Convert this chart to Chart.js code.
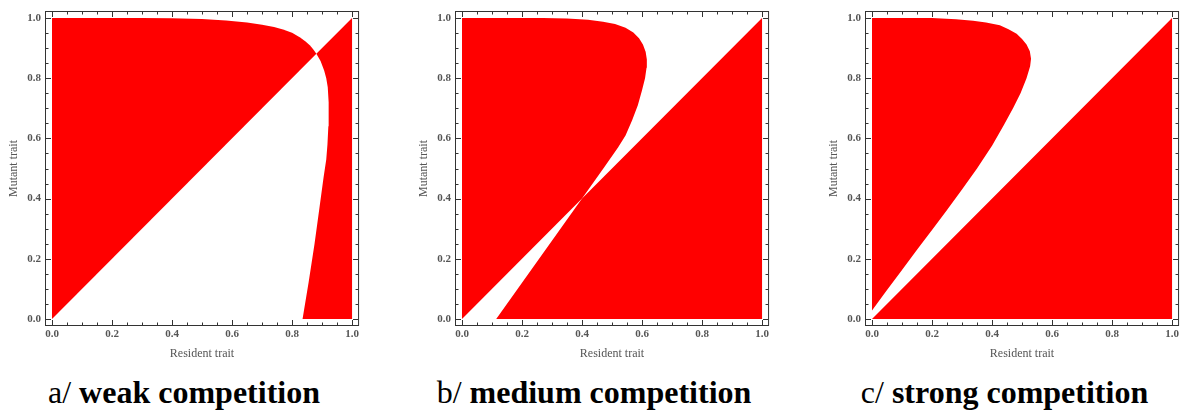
<!DOCTYPE html>
<html>
<head>
<meta charset="utf-8">
<script src="https://cdn.jsdelivr.net/npm/chart.js@4.4.0/dist/chart.umd.min.js"></script>
<style>
  html, body { margin: 0; padding: 0; background: #fff; width: 1181px; height: 410px; overflow: hidden; }
  .panel { position: absolute; top: 0; width: 362px; height: 370px; }
  .caption { position: absolute; top: 376px; width: 400px; text-align: center;
             font-family: "Liberation Serif", serif; font-size: 32px; line-height: 32px;
             color: #000; white-space: nowrap; }
</style>
</head>
<body>
<div class="panel" style="left:0px"><canvas id="pipWeak"></canvas></div>
<div class="panel" style="left:410px"><canvas id="pipMedium"></canvas></div>
<div class="panel" style="left:820px"><canvas id="pipStrong"></canvas></div>
<div class="caption" style="left:-16px">a/ <b>weak competition</b></div>
<div class="caption" style="left:394px">b/ <b>medium competition</b></div>
<div class="caption" style="left:804.5px">c/ <b>strong competition</b></div>
<script>
// tick labels on both axes
const tickValues = [0, 0.2, 0.4, 0.6, 0.8, 1.0];

// a/ weak competition : invasion regions (resident x, mutant y)
const weakLeftX  = [0, 0.881, 0.871, 0.86, 0.845, 0.827, 0.80, 0.77, 0.74, 0.70, 0.65, 0.58, 0.50, 0.40, 0.30, 0];
const weakLeftY  = [0, 0.881, 0.895, 0.909, 0.922, 0.935, 0.951, 0.962, 0.970, 0.978, 0.985, 0.992, 0.997, 0.999, 1.0, 1.0];
const weakRightX = [0.835, 0.855, 0.875, 0.89, 0.905, 0.914, 0.918, 0.921, 0.922, 0.922, 0.919, 0.914, 0.907, 0.895, 0.881, 1, 1];
const weakRightY = [0, 0.12, 0.25, 0.36, 0.47, 0.53, 0.58, 0.64, 0.69, 0.72, 0.77, 0.80, 0.826, 0.857, 0.881, 1, 0];

// b/ medium competition
const mediumLeftX  = [0, 0.40, 0.474, 0.52, 0.545, 0.567, 0.586, 0.600, 0.610, 0.615, 0.616, 0.612, 0.603, 0.59, 0.571, 0.545, 0.51, 0.47, 0.42, 0.35, 0.27, 0];
const mediumLeftY  = [0, 0.40, 0.504, 0.57, 0.61, 0.66, 0.71, 0.76, 0.80, 0.835, 0.862, 0.888, 0.912, 0.933, 0.952, 0.968, 0.980, 0.988, 0.994, 0.998, 1.0, 1.0];
const mediumRightX = [0.114, 0.40, 1, 1];
const mediumRightY = [0, 0.40, 1, 0];

// c/ strong competition
const strongLeftX  = [0, 0.05, 0.10, 0.15, 0.20, 0.25, 0.30, 0.35, 0.40, 0.44, 0.47, 0.495, 0.515, 0.527, 0.530, 0.526, 0.515, 0.50, 0.482, 0.455, 0.426, 0.38, 0.337, 0.28, 0.20, 0];
const strongLeftY  = [0.028, 0.096, 0.163, 0.23, 0.296, 0.362, 0.43, 0.50, 0.576, 0.645, 0.70, 0.75, 0.80, 0.84, 0.865, 0.89, 0.912, 0.93, 0.948, 0.963, 0.976, 0.985, 0.991, 0.996, 1.0, 1.0];
const strongRightX = [0, 1, 1];
const strongRightY = [0, 1, 0];

const regionColor = 'rgb(255,0,0)';
const serif = '"Liberation Serif", serif';

// frame box with inward ticks on all four sides
const framePlugin = {
  id: 'frame',
  afterDraw(chart) {
    const {ctx, chartArea: a, scales: {x, y}} = chart;
    ctx.save();
    ctx.strokeStyle = '#333';
    ctx.lineWidth = 1;
    ctx.strokeRect(a.left - 0.5, a.top - 0.5, a.right - a.left + 1, a.bottom - a.top + 1);
    ctx.beginPath();
    for (let i = 0; i <= 20; i++) {
      const v = i / 20;
      const len = i % 4 === 0 ? 5 : 2.5;
      const px = Math.round(x.getPixelForValue(v)) + 0.5;
      ctx.moveTo(px, a.bottom); ctx.lineTo(px, a.bottom - len);
      ctx.moveTo(px, a.top); ctx.lineTo(px, a.top + len);
      const py = Math.round(y.getPixelForValue(v)) + 0.5;
      ctx.moveTo(a.left, py); ctx.lineTo(a.left + len, py);
      ctx.moveTo(a.right, py); ctx.lineTo(a.right - len, py);
    }
    ctx.stroke();
    ctx.restore();
  }
};

function region(xs, ys) {
  return {
    data: xs.map((v, i) => ({x: v, y: ys[i]})),
    showLine: true,
    fill: 'shape',
    backgroundColor: regionColor,
    borderColor: 'rgba(0,0,0,0)',
    borderWidth: 0,
    pointRadius: 0,
    pointHoverRadius: 0,
    tension: 0
  };
}

function axis(titleText, isX) {
  return {
    type: 'linear',
    min: -0.02,
    max: 1.02,
    afterBuildTicks: s => { s.ticks = tickValues.map(v => ({value: v})); },
    afterFit: s => { if (isX) s.height = 45; else s.width = 46; },
    grid: {display: false, drawTicks: false},
    border: {display: false},
    ticks: {
      callback: v => v.toFixed(1),
      font: {family: serif, size: 11, weight: 'bold'},
      color: '#555',
      padding: isX ? 3 : 5,
      maxRotation: 0,
      autoSkip: false
    },
    title: {
      display: true,
      text: titleText,
      font: {family: serif, size: 12},
      color: '#555',
      padding: isX ? {top: 0, bottom: 9} : {top: 7, bottom: 0}
    }
  };
}

function makePanel(id, regions) {
  return new Chart(document.getElementById(id), {
    type: 'scatter',
    data: {datasets: regions},
    options: {
      responsive: true,
      maintainAspectRatio: false,
      animation: false,
      layout: {padding: {top: 12, right: 3.5, left: 0, bottom: 0}},
      plugins: {legend: {display: false}, tooltip: {enabled: false}},
      scales: {
        x: axis('Resident trait', true),
        y: axis('Mutant trait', false)
      }
    },
    plugins: [framePlugin]
  });
}

makePanel('pipWeak', [region(weakLeftX, weakLeftY), region(weakRightX, weakRightY)]);
makePanel('pipMedium', [region(mediumLeftX, mediumLeftY), region(mediumRightX, mediumRightY)]);
makePanel('pipStrong', [region(strongLeftX, strongLeftY), region(strongRightX, strongRightY)]);
</script>
</body>
</html>
